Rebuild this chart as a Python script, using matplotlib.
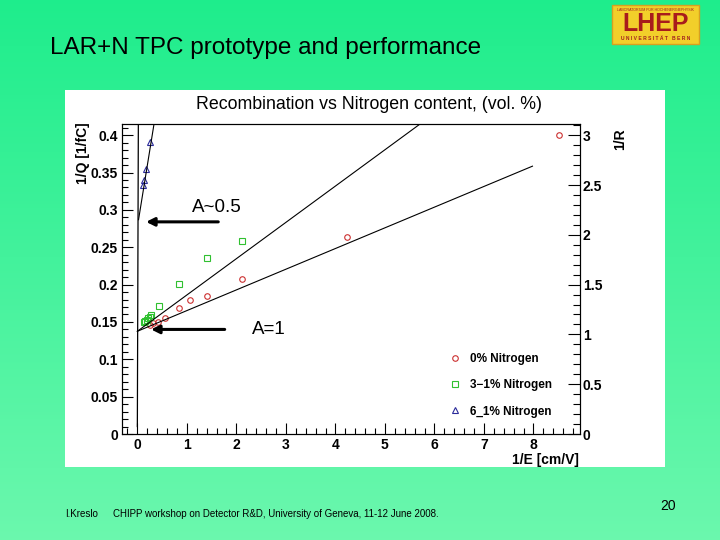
import numpy as np
import matplotlib.pyplot as plt
from matplotlib.patches import Rectangle
from matplotlib.ticker import MultipleLocator

# 0% nitrogen (red circles)
e0 = [8.51, 4.24, 2.12, 1.41, 1.06, 0.85, 0.55, 0.41, 0.31, 0.25]
q0 = [0.400, 0.264, 0.2076, 0.185, 0.179, 0.169, 0.155, 0.150, 0.148, 0.146]
# 3-1% nitrogen (green squares)
e3 = [2.12, 1.41, 0.85, 0.43, 0.275, 0.25, 0.22, 0.19, 0.16, 0.13]
q3 = [0.2587, 0.236, 0.201, 0.171, 0.159, 0.157, 0.155, 0.153, 0.151, 0.150]
# 6_1% nitrogen (blue triangles)
e6 = [0.25, 0.17, 0.14, 0.12]
q6 = [0.391, 0.355, 0.340, 0.333]

# straight line fits: (intercept, slope, x start, x end)
fit0 = (0.1375, 0.0277, 0.0, 7.98)
fit3 = (0.1375, 0.0486, 0.0, 6.0)
fit6 = (0.277, 0.41, 0.024, 0.4)

RtoQ = 7.5  # 1/R = 7.5 * 1/Q

plt.rcParams['font.family'] = ['Liberation Sans', 'DejaVu Sans']

fig = plt.figure(figsize=(7.2, 5.4), dpi=100)

# slide background gradient
bg = fig.add_axes([0, 0, 1, 1], zorder=-10)
grad = np.linspace(0, 1, 256).reshape(-1, 1)
top = np.array([0.12, 0.93, 0.55])
bot = np.array([0.42, 0.97, 0.68])
img = top + (bot - top) * grad[..., None]
bg.imshow(np.repeat(img, 2, axis=1), aspect='auto', extent=[0, 1, 0, 1])
bg.set_xlim(0, 1)
bg.set_ylim(0, 1)
bg.axis('off')

# white canvas of the ROOT plot
bg.add_patch(Rectangle((65 / 720, 1 - 467 / 540), 600 / 720, 377 / 540,
                       facecolor='white', edgecolor='none'))

# logo
bg.add_patch(Rectangle((612 / 720, 1 - 44 / 540), 87 / 720, 39 / 540,
                       facecolor='#f2cf2a', edgecolor='#d8a020', lw=1))
bg.text(655.5 / 720, 1 - 10 / 540, 'LABORATORIUM FÜR HOCHENERGIEPHYSIK',
        fontsize=2.6, color='#a02020', ha='center', va='center')
bg.text(655.5 / 720, 1 - 24 / 540, 'LHEP', fontsize=18, fontweight='bold',
        color='#a81c1c', ha='center', va='center')
bg.text(655.5 / 720, 1 - 38 / 540, 'U N I V E R S I T Ä T   B E R N',
        fontsize=3.6, fontweight='bold', color='#a02020', ha='center', va='center')

fig.text(50 / 720, 1 - 48 / 540, 'LAR+N TPC prototype and performance',
         fontsize=17.5, ha='left', va='center')
fig.text(65 / 720, 1 - 514 / 540, 'I.Kreslo', fontsize=7, ha='left', va='center')
fig.text(113 / 720, 1 - 514 / 540,
         'CHIPP workshop on Detector R&D, University of Geneva, 11-12 June 2008.',
         fontsize=7, ha='left', va='center')
fig.text(668 / 720, 1 - 506 / 540, '20', fontsize=10, ha='center', va='center')
fig.text(369 / 720, 1 - 104 / 540, 'Recombination vs Nitrogen content, (vol. %)',
         fontsize=12.8, ha='center', va='center')

ax = fig.add_axes([122 / 720, 1 - 434 / 540, 458 / 720, 310 / 540])
ax.set_facecolor('none')
ax.set_xlim(-0.31, 8.94)
ax.set_ylim(0, 0.415)

ax.plot(e0, q0, 'o', ms=4, mfc='none', mec='#cc3030', mew=0.8, label='0% Nitrogen')
ax.plot(e3, q3, 's', ms=4.5, mfc='none', mec='#30c030', mew=0.8, label='3\u22121% Nitrogen')
ax.plot(e6, q6, '^', ms=4.5, mfc='none', mec='#2a2a9a', mew=0.8, label='6_1% Nitrogen')

for b, k, x1, x2 in (fit0, fit3, fit6):
    xs = np.array([x1, x2])
    ax.plot(xs, b + k * xs, color='black', lw=0.8)
# near-vertical fit line at 1/E ~ 0
ax.plot([0.0, 0.02], [0.01, 0.413], color='black', lw=0.9)

ax.annotate('', xy=(0.12, 0.284), xytext=(1.69, 0.284),
            arrowprops=dict(arrowstyle='-|>', color='black', lw=2.2, mutation_scale=12))
ax.annotate('', xy=(0.22, 0.14), xytext=(1.82, 0.14),
            arrowprops=dict(arrowstyle='-|>', color='black', lw=2.2, mutation_scale=12))
ax.text(1.10, 0.303, 'A~0.5', fontsize=13.5, ha='left', va='center')
ax.text(2.32, 0.14, 'A=1', fontsize=13.5, ha='left', va='center')

leg = ax.legend(loc='upper left', bbox_to_anchor=(0.69, 0.295), frameon=False,
                handlelength=1.0, handletextpad=0.8, labelspacing=1.2,
                prop={'weight': 'bold', 'size': 8.5})

ax.xaxis.set_major_locator(MultipleLocator(1))
ax.xaxis.set_minor_locator(MultipleLocator(0.2))
ax.yaxis.set_major_locator(MultipleLocator(0.05))
ax.yaxis.set_minor_locator(MultipleLocator(0.01))
ax.tick_params(which='both', direction='in', top=False, right=False, width=0.8)
ax.tick_params(which='major', length=8, labelsize=10, pad=3)
ax.tick_params(which='minor', length=4)
ax.set_xticks(range(0, 9))
ax.set_yticks([0, 0.05, 0.1, 0.15, 0.2, 0.25, 0.3, 0.35, 0.4])
ax.set_yticklabels(['0', '0.05', '0.1', '0.15', '0.2', '0.25', '0.3', '0.35', '0.4'])
for lab in ax.get_xticklabels() + ax.get_yticklabels():
    lab.set_fontweight('bold')
for sp in ax.spines.values():
    sp.set_linewidth(0.8)

ax2 = ax.twinx()
ax2.set_ylim(0, 0.415 * RtoQ)
ax2.yaxis.set_major_locator(MultipleLocator(0.5))
ax2.yaxis.set_minor_locator(MultipleLocator(0.1))
ax2.tick_params(which='both', direction='in', width=0.8)
ax2.tick_params(which='major', length=9, labelsize=10, pad=2)
ax2.tick_params(which='minor', length=5)
ax2.set_yticks([0, 0.5, 1, 1.5, 2, 2.5, 3])
ax2.set_yticklabels(['0', '0.5', '1', '1.5', '2', '2.5', '3'])
for lab in ax2.get_yticklabels():
    lab.set_fontweight('bold')

fig.text(83 / 720, 1 - 122 / 540, '1/Q [1/fC]', rotation=90, fontsize=10,
         fontweight='bold', ha='center', va='top')
fig.text(620 / 720, 1 - 128 / 540, '1/R', rotation=90, fontsize=10,
         fontweight='bold', ha='center', va='top')
fig.text(579 / 720, 1 - 460 / 540, '1/E [cm/V]', fontsize=10,
         fontweight='bold', ha='right', va='center')

fig.savefig('out.png', dpi=100)
